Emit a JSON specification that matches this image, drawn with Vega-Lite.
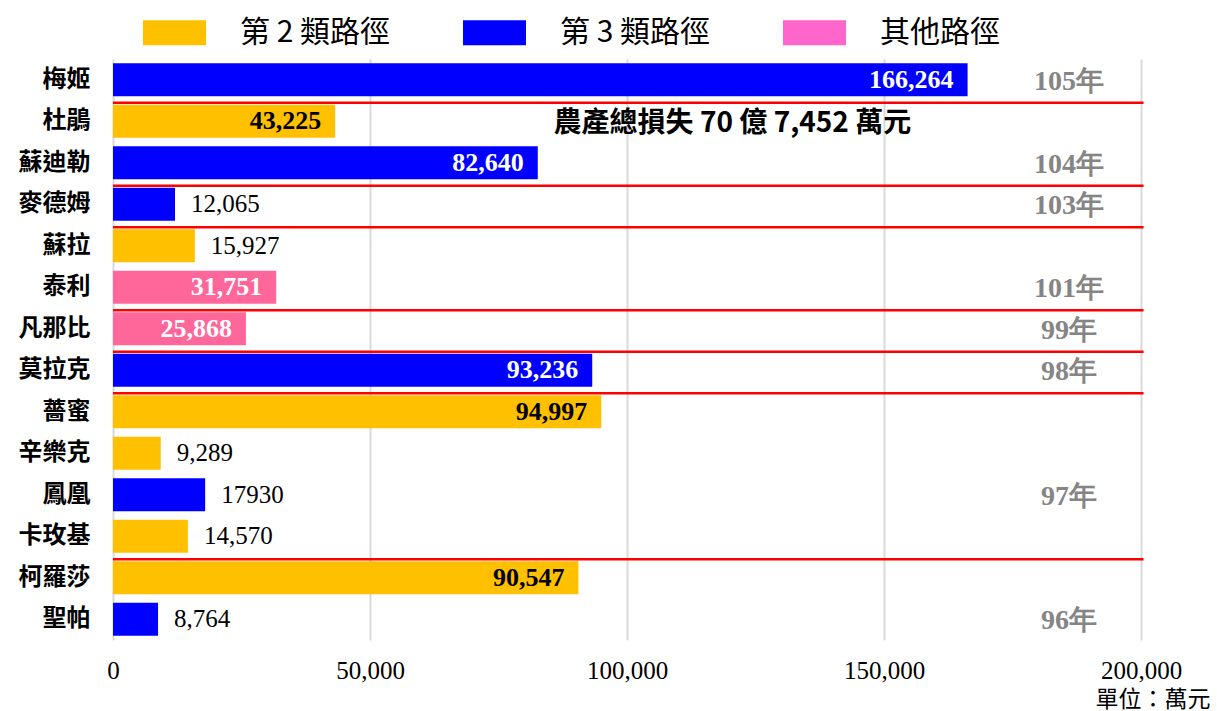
{
  "$schema": "https://vega.github.io/schema/vega-lite/v6.json",
  "width": 1028,
  "height": 581,
  "autosize": {"type": "none"},
  "padding": {"left": 113, "top": 59, "right": 76, "bottom": 71},
  "background": "white",
  "config": {"view": {"stroke": null}, "font": "Liberation Serif"},
  "datasets": {
    "typhoons": [
      {"name": "梅姬", "type": "第 3 類路徑", "value": 166264, "label": "166,264"},
      {"name": "杜鵑", "type": "第 2 類路徑", "value": 43225, "label": "43,225"},
      {"name": "蘇迪勒", "type": "第 3 類路徑", "value": 82640, "label": "82,640"},
      {"name": "麥德姆", "type": "第 3 類路徑", "value": 12065, "label": "12,065"},
      {"name": "蘇拉", "type": "第 2 類路徑", "value": 15927, "label": "15,927"},
      {"name": "泰利", "type": "其他路徑", "value": 31751, "label": "31,751"},
      {"name": "凡那比", "type": "其他路徑", "value": 25868, "label": "25,868"},
      {"name": "莫拉克", "type": "第 3 類路徑", "value": 93236, "label": "93,236"},
      {"name": "薔蜜", "type": "第 2 類路徑", "value": 94997, "label": "94,997"},
      {"name": "辛樂克", "type": "第 2 類路徑", "value": 9289, "label": "9,289"},
      {"name": "鳳凰", "type": "第 3 類路徑", "value": 17930, "label": "17930"},
      {"name": "卡玫基", "type": "第 2 類路徑", "value": 14570, "label": "14,570"},
      {"name": "柯羅莎", "type": "第 2 類路徑", "value": 90547, "label": "90,547"},
      {"name": "聖帕", "type": "第 3 類路徑", "value": 8764, "label": "8,764"}
    ],
    "separators": [
      {"name": "杜鵑"}, {"name": "麥德姆"}, {"name": "蘇拉"}, {"name": "凡那比"},
      {"name": "莫拉克"}, {"name": "薔蜜"}, {"name": "柯羅莎"}
    ],
    "years": [
      {"name": "梅姬", "year": "105年"},
      {"name": "蘇迪勒", "year": "104年"},
      {"name": "麥德姆", "year": "103年"},
      {"name": "泰利", "year": "101年"},
      {"name": "凡那比", "year": "99年"},
      {"name": "莫拉克", "year": "98年"},
      {"name": "鳳凰", "year": "97年"},
      {"name": "聖帕", "year": "96年"}
    ]
  },
  "layer": [
    {
      "data": {"name": "typhoons"},
      "mark": {"type": "bar"},
      "encoding": {
        "y": {
          "field": "name", "type": "nominal",
          "scale": {
            "domain": ["梅姬", "杜鵑", "蘇迪勒", "麥德姆", "蘇拉", "泰利", "凡那比", "莫拉克", "薔蜜", "辛樂克", "鳳凰", "卡玫基", "柯羅莎", "聖帕"],
            "paddingInner": 0.2, "paddingOuter": 0.1
          },
          "axis": {
            "title": null, "domain": false, "ticks": false, "grid": false,
            "labelFont": "Noto Sans CJK TC", "labelFontWeight": "bold", "labelFontSize": 24,
            "labelColor": "black", "labelPadding": 23
          }
        },
        "x": {
          "field": "value", "type": "quantitative",
          "scale": {"domain": [0, 200000], "nice": false},
          "axis": {
            "title": "單位：萬元", "values": [0, 50000, 100000, 150000, 200000],
            "labelExpr": "format(datum.value, ',')",
            "domain": false, "ticks": false, "grid": true, "gridColor": "#D9D9D9", "gridWidth": 2,
            "labelFont": "Liberation Serif", "labelFontSize": 25, "labelColor": "black",
            "labelPadding": 18, "labelFlush": false,
            "titleFont": "Noto Sans CJK TC", "titleFontSize": 23, "titleFontWeight": "normal",
            "titleColor": "black", "titleX": 1097, "titleY": 59, "titleAlign": "right",
            "titleBaseline": "middle", "titleAnchor": null
          }
        },
        "fill": {
          "condition": [
            {"test": "datum.type === '其他路徑'", "value": "#FF6699"},
            {"test": "datum.type === '第 3 類路徑'", "value": "#0000FF"}
          ],
          "value": "#FFC000"
        }
      }
    },
    {
      "data": {"name": "typhoons"},
      "mark": {"type": "point", "filled": true, "opacity": 0, "size": 1},
      "encoding": {
        "y": {"field": "name", "type": "nominal"},
        "x": {"field": "value", "type": "quantitative"},
        "color": {
          "field": "type", "type": "nominal",
          "scale": {"domain": ["第 2 類路徑", "第 3 類路徑", "其他路徑"], "range": ["#FFC000", "#0000FF", "#FF66CC"]},
          "legend": {
            "title": null, "orient": "none", "legendX": 30, "legendY": -58, "direction": "horizontal",
            "symbolType": "M-1,-0.4H1V0.4H-1Z", "symbolSize": 3969, "symbolStrokeWidth": 0,
            "labelFont": "Noto Sans CJK TC", "labelFontSize": 30, "labelColor": "black",
            "labelOffset": 34, "columnPadding": 72, "gridAlign": "all", "padding": 0, "labelLimit": 400,
            "symbolOpacity": 1
          }
        }
      }
    },
    {
      "data": {"name": "separators"},
      "mark": {"type": "rule", "color": "#FF0000", "strokeWidth": 2.5, "yOffset": -2},
      "encoding": {
        "y": {"field": "name", "type": "nominal", "bandPosition": 0},
        "x": {"datum": 0},
        "x2": {"datum": 200500}
      }
    },
    {
      "data": {"name": "typhoons"},
      "transform": [{"filter": "datum.value >= 20000"}],
      "mark": {"type": "text", "align": "right", "baseline": "middle", "dx": -14, "font": "Liberation Serif", "fontWeight": "bold", "fontSize": 26},
      "encoding": {
        "y": {"field": "name", "type": "nominal"},
        "x": {"field": "value", "type": "quantitative"},
        "text": {"field": "label"},
        "fill": {"condition": {"test": "datum.type === '第 2 類路徑'", "value": "black"}, "value": "white"}
      }
    },
    {
      "data": {"name": "typhoons"},
      "transform": [{"filter": "datum.value < 20000"}],
      "mark": {"type": "text", "align": "left", "baseline": "middle", "dx": 16, "font": "Liberation Serif", "fontSize": 25, "fill": "black"},
      "encoding": {
        "y": {"field": "name", "type": "nominal"},
        "x": {"field": "value", "type": "quantitative"},
        "text": {"field": "label"}
      }
    },
    {
      "data": {"name": "years"},
      "mark": {"type": "text", "align": "center", "baseline": "middle", "dy": 2, "font": "Liberation Serif", "fontWeight": "bold", "fontSize": 28, "fill": "#858585"},
      "encoding": {
        "y": {"field": "name", "type": "nominal"},
        "x": {"datum": 186000},
        "text": {"field": "year"}
      }
    },
    {
      "data": {"values": [{"note": "農產總損失 70 億 7,452 萬元"}]},
      "mark": {"type": "text", "align": "center", "baseline": "middle", "dy": 3, "font": "Noto Sans CJK TC", "fontWeight": "bold", "fontSize": 28, "fill": "black"},
      "encoding": {
        "y": {"datum": "杜鵑"},
        "x": {"datum": 120500},
        "text": {"field": "note"}
      }
    }
  ]
}
